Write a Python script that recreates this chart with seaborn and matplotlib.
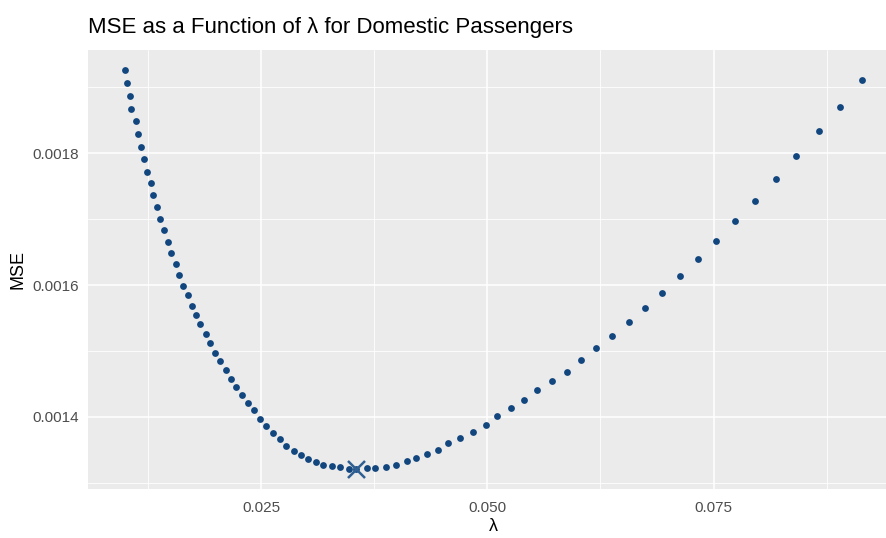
import matplotlib
matplotlib.use("Agg")
import matplotlib.pyplot as plt
from matplotlib.ticker import MultipleLocator, FormatStrFormatter
import seaborn as sns
import pandas as pd

# lambda grid and the MSE
lambdas = [
    0.0100, 0.0102, 0.0105, 0.0107, 0.0112, 0.0114, 0.0118, 0.0121, 0.0124, 0.0128,
    0.0131, 0.0135, 0.0139, 0.0143, 0.0147, 0.0151, 0.0156, 0.0160, 0.0164, 0.0169,
    0.0174, 0.0178, 0.0183, 0.0189, 0.0194, 0.0199, 0.0205, 0.0211, 0.0217, 0.0222,
    0.0229, 0.0236, 0.0242, 0.0249, 0.0256, 0.0263, 0.0271, 0.0278, 0.0286, 0.0294,
    0.0302, 0.0311, 0.0319, 0.0328, 0.0337, 0.0347, 0.0355, 0.0367, 0.0376, 0.0388,
    0.0399, 0.0411, 0.0421, 0.0433, 0.0446, 0.0457, 0.0470, 0.0484, 0.0498, 0.0511,
    0.0526, 0.0541, 0.0555, 0.0571, 0.0588, 0.0603, 0.0620, 0.0638, 0.0656, 0.0674,
    0.0693, 0.0713, 0.0733, 0.0753, 0.0774, 0.0796, 0.0819, 0.0841, 0.0866, 0.0889,
    0.0914,
]
mse = [
    0.0019259, 0.0019062, 0.0018866, 0.0018669, 0.0018494, 0.0018297, 0.0018101, 0.0017920, 0.0017723, 0.0017546,
    0.0017365, 0.0017188, 0.0017007, 0.0016832, 0.0016650, 0.0016489, 0.0016312, 0.0016152, 0.0015990, 0.0015846,
    0.0015688, 0.0015547, 0.0015401, 0.0015260, 0.0015113, 0.0014973, 0.0014846, 0.0014705, 0.0014580, 0.0014449,
    0.0014328, 0.0014202, 0.0014096, 0.0013970, 0.0013864, 0.0013753, 0.0013667, 0.0013562, 0.0013486, 0.0013416,
    0.0013361, 0.0013311, 0.0013270, 0.0013250, 0.0013235, 0.0013212, 0.0013205, 0.0013215, 0.0013222, 0.0013240,
    0.0013274, 0.0013326, 0.0013376, 0.0013436, 0.0013501, 0.0013598, 0.0013682, 0.0013773, 0.0013879, 0.0014006,
    0.0014131, 0.0014257, 0.0014399, 0.0014544, 0.0014686, 0.0014861, 0.0015042, 0.0015222, 0.0015435, 0.0015653,
    0.0015884, 0.0016130, 0.0016398, 0.0016670, 0.0016972, 0.0017279, 0.0017617, 0.0017954, 0.0018332, 0.0018705,
    0.0019118,
]

df = pd.DataFrame({"lambda": lambdas, "MSE": mse})
best = df.loc[df["MSE"].idxmin()]

sns.set_theme(style="darkgrid")
plt.rcParams["font.family"] = ["Liberation Sans", "DejaVu Sans"]

fig = plt.figure(figsize=(8.87, 5.38), dpi=100)
# panel runs a bit past the right edge, as in the cropped original
ax = fig.add_axes([88.3 / 887, 49 / 538, 810.7 / 887, 438.5 / 538])
ax.set_facecolor("#EBEBEB")

sns.scatterplot(data=df, x="lambda", y="MSE", ax=ax, color="#12467E",
                s=24, linewidth=0, zorder=3)
ax.scatter([best["lambda"]], [best["MSE"]], marker="x", s=150,
           color="#2F5F93", linewidths=1.8, zorder=4)

ax.margins(x=0.05, y=0.05)
ax.xaxis.set_major_locator(MultipleLocator(0.025))
ax.xaxis.set_minor_locator(MultipleLocator(0.0125))
ax.yaxis.set_major_locator(MultipleLocator(0.0002))
ax.yaxis.set_minor_locator(MultipleLocator(0.0001))
ax.xaxis.set_major_formatter(FormatStrFormatter("%.3f"))
ax.yaxis.set_major_formatter(FormatStrFormatter("%.4f"))

ax.grid(which="major", color="white", linewidth=1.1)
ax.grid(which="minor", color="white", linewidth=0.6)
ax.set_axisbelow(True)
for sp in ax.spines.values():
    sp.set_visible(False)

ax.tick_params(which="major", length=3.7, width=0.8, color="#333333",
               labelsize=11, labelcolor="#4D4D4D", pad=3)
ax.tick_params(axis="x", which="major", pad=5)
ax.tick_params(which="minor", length=0)

ax.set_xlabel("λ", fontsize=13, color="black", labelpad=2)
ax.set_ylabel("MSE", fontsize=13, color="black", labelpad=4)
fig.text(88.3 / 887, 1 - 33 / 538, "MSE as a Function of λ for Domestic Passengers",
         fontsize=16, color="black", ha="left", va="baseline")

fig.savefig("out.png", dpi=100, facecolor="white")
